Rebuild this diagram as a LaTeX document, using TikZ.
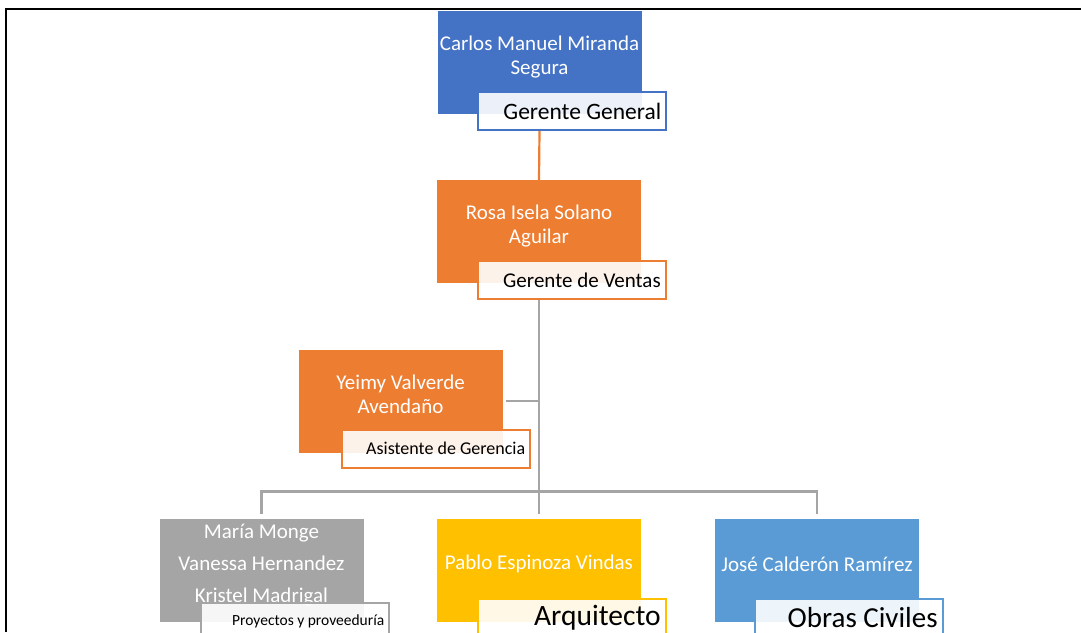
\documentclass[tikz,border=0pt]{standalone}
\usepackage{fontspec}
\setmainfont{Carlito}
\usetikzlibrary{backgrounds}
\definecolor{boss}{HTML}{4472C4}
\definecolor{sales}{HTML}{ED7D31}
\definecolor{staff}{HTML}{A5A5A5}
\definecolor{gold}{HTML}{FFC000}
\definecolor{sky}{HTML}{5B9BD5}
\newcommand{\rolename}[1]{\makebox[178pt][r]{#1}}
\tikzset{
  person/.style={minimum width=204pt,minimum height=103pt,inner sep=0pt},
  who/.style={text=white,font=\fontsize{21}{24}\selectfont,align=center},
  role/.style={fill=white,fill opacity=0.9,text opacity=1,line width=1.8pt,
    minimum height=38pt,inner xsep=5pt,inner ysep=0pt,anchor=north west},
  link/.style={draw=staff,line width=2.4pt},
}
\begin{document}
\begin{tikzpicture}[x=1pt,y=-1pt]
\useasboundingbox (0,0) rectangle (1081,632);
\clip (0,0) rectangle (1081,632);
\draw[line width=2pt] (6,632) -- (6,9) -- (1081,9);
% gerente general
\node[person,fill=boss] (ceo) at (539.5,62.5) {};
\node[who] (ceo-name) at ([yshift=5pt]ceo.center) {Carlos Manuel Miranda\\Segura};
\node[role,draw=boss,font=\fontsize{23.5}{24}\selectfont] (ceo-role) at ([xshift=40pt,yshift=23pt]ceo.south west) {\rolename{Gerente General}};
% ventas
\node[person,fill=sales] (ventas) at (539,231.5) {};
\node[who] (ventas-name) at ([yshift=5pt]ventas.center) {Rosa Isela Solano\\Aguilar};
\node[role,draw=sales,font=\fontsize{21}{24}\selectfont] (ventas-role) at ([xshift=40pt,yshift=23pt]ventas.south west) {\rolename{Gerente de Ventas}};
% asistente
\node[person,fill=sales] (asst) at (400.5,401) {};
\node[who] (asst-name) at ([yshift=7pt]asst.center) {Yeimy Valverde\\Avendaño};
\node[role,draw=sales,font=\fontsize{18}{24}\selectfont] (asst-role) at ([xshift=43pt,yshift=24pt]asst.south west) {\rolename{Asistente de Gerencia}};
% proyectos
\node[person,fill=staff] (proy) at (261.5,570) {};
\node[who,font=\fontsize{21}{32}\selectfont] (proy-name) at ([yshift=5pt]proy.center) {María Monge\\Vanessa Hernandez\\Kristel Madrigal};
\node[role,draw=staff,font=\fontsize{15.5}{24}\selectfont] (proy-role) at ([xshift=41pt,yshift=20pt]proy.south west) {\rolename{Proyectos y proveeduría}};
% arquitecto
\node[person,fill=gold] (arq) at (539,570) {};
\node[who] (arq-name) at ([yshift=6pt]arq.center) {Pablo Espinoza Vindas};
\node[role,draw=gold,font=\fontsize{29.5}{30}\selectfont] (arq-role) at ([xshift=40pt,yshift=24pt]arq.south west) {\rolename{Arquitecto}};
% obras civiles
\node[person,fill=sky] (civil) at (817,570) {};
\node[who] (civil-name) at ([yshift=6pt]civil.center) {José Calderón Ramírez};
\node[role,draw=sky,font=\fontsize{29}{30}\selectfont] (civil-role) at ([xshift=39pt,yshift=24pt]civil.south west) {\rolename{Obras Civiles}};
% connectors
\begin{scope}[on background layer]
\draw[draw=sales,line width=2.2pt] (ceo-role.south -| ceo) -- (ventas.north);
\coordinate (split) at ([yshift=27pt]arq.north);
\draw[link] (ventas-role.south -| ventas) -- ([yshift=4pt]arq.north);
\draw[link] ([xshift=3pt]asst.east) -- (asst.east -| ventas);
\draw[link] ([yshift=4pt]proy.north) |- (split) -| ([yshift=4pt]civil.north);
\end{scope}
\end{tikzpicture}
\end{document}
